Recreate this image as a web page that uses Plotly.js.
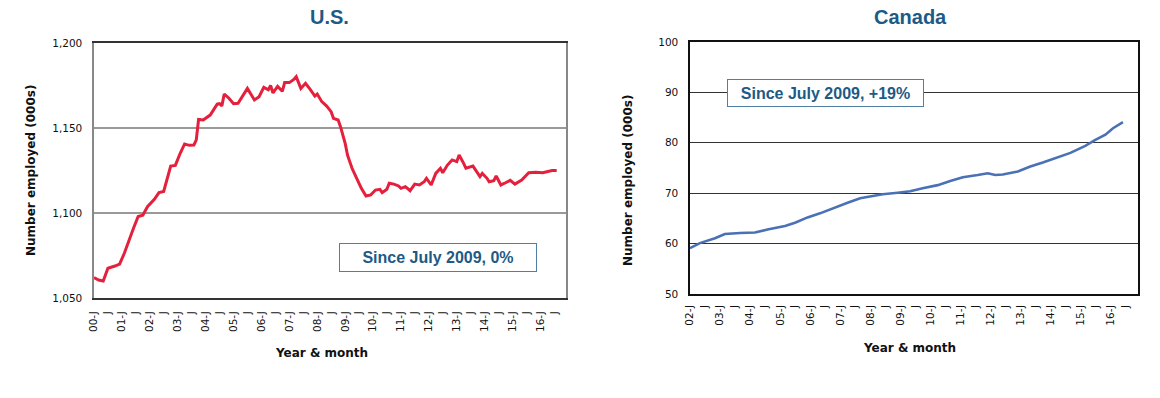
<!DOCTYPE html>
<html>
<head>
<meta charset="utf-8">
<script src="https://cdn.plot.ly/plotly-3.0.1.min.js"></script>
<style>html,body{margin:0;padding:0;background:#fff;}#chart{width:1160px;height:398px;}</style>
</head>
<body>
<div id="chart"></div>
<script>
// ---- U.S. data (monthly, 000s) ----
const usDates = ['2000-01','2000-03','2000-05','2000-07','2000-10','2000-12','2001-02','2001-04','2001-06','2001-08','2001-10','2001-12',
'2002-03','2002-05','2002-07','2002-10','2002-12','2003-02','2003-04','2003-06','2003-08','2003-09','2003-10','2003-12',
'2004-03','2004-06','2004-07','2004-08','2004-09','2004-11','2005-01','2005-03','2005-07','2005-10','2005-12',
'2006-02','2006-04','2006-05','2006-06','2006-08','2006-10','2006-11','2007-01','2007-03','2007-04','2007-06','2007-08','2007-10','2007-12',
'2008-01','2008-03','2008-05','2008-07','2008-08','2008-10','2008-11','2009-01','2009-02','2009-04','2009-06','2009-08','2009-10','2009-12',
'2010-02','2010-04','2010-05','2010-07','2010-08','2010-10','2010-12','2011-01','2011-03','2011-05','2011-07','2011-09','2011-11','2011-12',
'2012-02','2012-04','2012-06','2012-07','2012-09','2012-11','2013-01','2013-02','2013-04','2013-05','2013-08','2013-10','2013-11','2013-12',
'2014-02','2014-03','2014-05','2014-06','2014-08','2014-10','2014-12','2015-02','2015-05','2015-08','2015-11','2016-02','2016-06','2016-08'];
const usValues = [1062,1060.6,1060,1067.5,1068.8,1070,1076.3,1084,1091,1097.9,1098.7,1103.7,
1108,1112,1112.7,1127.6,1128,1135,1140.6,1139.8,1140,1143,1155,1154.7,
1157.6,1164,1164.3,1163,1170,1167.5,1164.3,1164.5,1173.3,1166.5,1168.4,
1173.9,1172.5,1175,1170.6,1174.5,1171.6,1176.7,1176.7,1178.6,1180.2,1173.3,1176.3,1172.7,1168.8,
1170,1165.5,1163,1159.6,1155.7,1154.7,1150.8,1141,1134,1126.3,1120.4,1114.5,1110,1110.6,
1113.5,1113.9,1112,1114,1117.5,1117,1115.9,1114.5,1115.5,1113.1,1117,1116.5,1118.4,1120.4,
1116.5,1123.3,1126.3,1123.7,1128.2,1131.2,1130.2,1134.1,1129.2,1126.3,1127.6,1123.3,1121.4,1123.3,
1120.4,1118.4,1119,1121.8,1116.5,1117.8,1119.2,1117,1119.4,1123.7,1124,1123.7,1125,1125];

// ---- Canada data (monthly, 000s) ----
const caDates = ['2002-01','2002-05','2002-11','2003-03','2003-09','2004-03','2004-08','2005-03','2005-07','2005-12',
'2006-05','2006-11','2007-04','2007-09','2008-03','2008-06','2008-12','2009-05','2009-10','2010-04','2010-09',
'2011-02','2011-08','2011-12','2012-03','2012-06','2012-12','2013-05','2013-10','2014-04','2014-09',
'2015-03','2015-07','2015-11','2016-02','2016-06'];
const caValues = [59.1,60.1,61.05,61.9,62.1,62.2,62.8,63.5,64.15,65.2,
66.0,67.2,68.1,69.0,69.6,69.8,70.1,70.4,71.0,71.6,72.4,
73.15,73.6,73.95,73.6,73.7,74.3,75.3,76.1,77.1,78.0,
79.4,80.6,81.6,82.9,84.1];

// ---- tick labels ----
const usTickYears = ['00','01','02','03','04','05','06','07','08','09','10','11','12','13','14','15','16'];
const caTickYears = ['02','03','04','05','06','07','08','09','10','11','12','13','14','15','16'];
const usYTicks = [1050,1100,1150,1200];
const usYTickText = ['1,050','1,100','1,150','1,200'];
const caYTicks = [50,60,70,80,90,100];

const titles = ['U.S.','Canada'];
const notes = ['Since July 2009, 0%','Since July 2009, +19%'];
const yTitle = 'Number employed (000s)';
const xTitle = 'Year & month';

function halfYearTicks(years){
  const vals=[], text=[];
  years.forEach(y=>{
    const full = '20'+y;
    vals.push(full+'-01-01'); text.push(y+'-J');
    vals.push(full+'-07-01'); text.push('J');
  });
  return {vals, text};
}
const usT = halfYearTicks(usTickYears);
const caT = halfYearTicks(caTickYears);

const W=1160, H=398;
const px = x => x/W;
const py = y => 1 - y/H;

const tickFont = {family:'DejaVu Sans, sans-serif', size:10.5, color:'#111'};
const titleColor = '#1d5a85';

const traces = [
  {x: usDates, y: usValues, type:'scatter', mode:'lines', line:{color:'#e4203d', width:3}, xaxis:'x', yaxis:'y', hoverinfo:'skip'},
  {x: caDates, y: caValues, type:'scatter', mode:'lines', line:{color:'#4a70b6', width:2.6}, xaxis:'x2', yaxis:'y2', hoverinfo:'skip'}
];

const layout = {
  width: W, height: H,
  margin:{l:0,r:0,t:0,b:0},
  paper_bgcolor:'#fff', plot_bgcolor:'#fff',
  showlegend:false,
  xaxis:{
    domain:[px(94), px(566)], anchor:'y', type:'date',
    range:['2000-01-01','2016-12-01'],
    tickmode:'array', tickvals:usT.vals, ticktext:usT.text, tickangle:-90,
    tickfont:tickFont, ticks:'', ticklabelstandoff:7,
    showgrid:false, zeroline:false,
    showline:true, mirror:true, linecolor:'#333', linewidth:2
  },
  yaxis:{
    domain:[py(298), py(43)], anchor:'x',
    range:[1050,1200], tickmode:'array', tickvals:usYTicks, ticktext:usYTickText,
    tickfont:tickFont, ticks:'', ticklabelstandoff:8,
    showgrid:true, gridcolor:'#999', gridwidth:1.6, zeroline:false,
    showline:true, mirror:true, linecolor:'#888', linewidth:1.6
  },
  xaxis2:{
    domain:[px(690), px(1138)], anchor:'y2', type:'date',
    range:['2002-01-01','2016-12-01'],
    tickmode:'array', tickvals:caT.vals, ticktext:caT.text, tickangle:-90,
    tickfont:tickFont, ticks:'', ticklabelstandoff:5,
    showgrid:false, zeroline:false,
    showline:true, mirror:true, linecolor:'#111', linewidth:1.6
  },
  yaxis2:{
    domain:[py(294), py(42)], anchor:'x2',
    range:[50,100], tickmode:'array', tickvals:caYTicks,
    tickfont:tickFont, ticks:'', ticklabelstandoff:8,
    showgrid:true, gridcolor:'#333', gridwidth:1.2, zeroline:false,
    showline:true, mirror:true, linecolor:'#111', linewidth:1.6
  },
  annotations:[
    {text:'<b>'+titles[0]+'</b>', xref:'paper', yref:'paper', x:px(329), y:py(17), xanchor:'center', yanchor:'middle', showarrow:false,
     font:{family:'Liberation Sans, Arial, sans-serif', size:20, color:titleColor}},
    {text:'<b>'+titles[1]+'</b>', xref:'paper', yref:'paper', x:px(910), y:py(17), xanchor:'center', yanchor:'middle', showarrow:false,
     font:{family:'Liberation Sans, Arial, sans-serif', size:20, color:titleColor}},
    {text:'<b>'+yTitle+'</b>', xref:'paper', yref:'paper', x:px(31), y:py(171), xanchor:'center', yanchor:'middle', textangle:-90, showarrow:false,
     font:{family:'DejaVu Sans, sans-serif', size:12, color:'#111'}},
    {text:'<b>'+yTitle+'</b>', xref:'paper', yref:'paper', x:px(628), y:py(181), xanchor:'center', yanchor:'middle', textangle:-90, showarrow:false,
     font:{family:'DejaVu Sans, sans-serif', size:12, color:'#111'}},
    {text:'<b>'+xTitle+'</b>', xref:'paper', yref:'paper', x:px(321), y:py(353), xanchor:'center', yanchor:'middle', showarrow:false,
     font:{family:'DejaVu Sans, sans-serif', size:12, color:'#111'}},
    {text:'<b>'+xTitle+'</b>', xref:'paper', yref:'paper', x:px(909), y:py(348), xanchor:'center', yanchor:'middle', showarrow:false,
     font:{family:'DejaVu Sans, sans-serif', size:12, color:'#111'}},
    {text:'<b>'+notes[0]+'</b>', xref:'paper', yref:'paper', x:px(438), y:py(257.5), xanchor:'center', yanchor:'middle', showarrow:false,
     width:194, height:25, borderpad:1, borderwidth:1, bordercolor:'#4f7fa3', bgcolor:'#fff',
     font:{family:'Liberation Sans, Arial, sans-serif', size:16, color:titleColor}},
    {text:'<b>'+notes[1]+'</b>', xref:'paper', yref:'paper', x:px(825.5), y:py(93), xanchor:'center', yanchor:'middle', showarrow:false,
     width:193, height:24, borderpad:1, borderwidth:1, bordercolor:'#4f7fa3', bgcolor:'#fff',
     font:{family:'Liberation Sans, Arial, sans-serif', size:16, color:titleColor}}
  ]
};

Plotly.newPlot('chart', traces, layout, {staticPlot:true, displayModeBar:false});
</script>
</body>
</html>
